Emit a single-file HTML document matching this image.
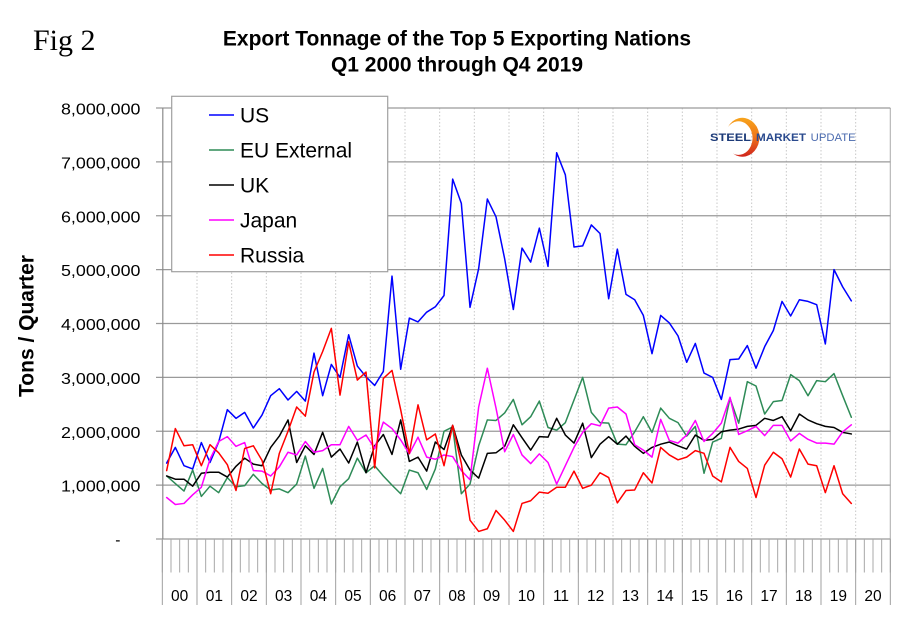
<!DOCTYPE html>
<html>
<head>
<meta charset="utf-8">
<style>
  html,body{margin:0;padding:0;background:#fff;}
  svg{display:block;}
  text{font-family:"Liberation Sans", Arial, sans-serif;}
</style>
</head>
<body>
<svg width="910" height="622" viewBox="0 0 910 622" xmlns="http://www.w3.org/2000/svg">
  <rect x="0" y="0" width="910" height="622" fill="#fff"/>

  <!-- Fig label -->
  <text x="33" y="50" style="font-family:'Liberation Serif', 'Times New Roman', serif;" font-size="30" fill="#000">Fig 2</text>

  <!-- Title -->
  <text x="457" y="45.7" font-size="21" font-weight="bold" text-anchor="middle" fill="#000">Export Tonnage of the Top 5 Exporting Nations</text>
  <text x="457" y="71.7" font-size="21" font-weight="bold" text-anchor="middle" fill="#000">Q1 2000 through Q4 2019</text>

  <!-- Y axis title -->
  <text transform="translate(33.3 326) rotate(-90)" font-size="21" font-weight="bold" text-anchor="middle" fill="#000">Tons / Quarter</text>

  <!-- vertical dotted gridlines -->
  <g stroke="#c8c8c8" stroke-width="1" stroke-dasharray="1.5 2">
    <line x1="197.0" y1="108" x2="197.0" y2="539"/>
    <line x1="231.67" y1="108" x2="231.67" y2="539"/>
    <line x1="266.33" y1="108" x2="266.33" y2="539"/>
    <line x1="301.0" y1="108" x2="301.0" y2="539"/>
    <line x1="335.67" y1="108" x2="335.67" y2="539"/>
    <line x1="370.33" y1="108" x2="370.33" y2="539"/>
    <line x1="405.0" y1="108" x2="405.0" y2="539"/>
    <line x1="439.67" y1="108" x2="439.67" y2="539"/>
    <line x1="474.33" y1="108" x2="474.33" y2="539"/>
    <line x1="509.0" y1="108" x2="509.0" y2="539"/>
    <line x1="543.67" y1="108" x2="543.67" y2="539"/>
    <line x1="578.33" y1="108" x2="578.33" y2="539"/>
    <line x1="613.0" y1="108" x2="613.0" y2="539"/>
    <line x1="647.67" y1="108" x2="647.67" y2="539"/>
    <line x1="682.33" y1="108" x2="682.33" y2="539"/>
    <line x1="717.0" y1="108" x2="717.0" y2="539"/>
    <line x1="751.67" y1="108" x2="751.67" y2="539"/>
    <line x1="786.33" y1="108" x2="786.33" y2="539"/>
    <line x1="821.0" y1="108" x2="821.0" y2="539"/>
    <line x1="855.67" y1="108" x2="855.67" y2="539"/>
  </g>

  <!-- right border -->
  <line x1="890.33" y1="108" x2="890.33" y2="539" stroke="#b8b8b8" stroke-width="1.2"/>

  <!-- horizontal gridlines -->
  <g stroke="#9a9a9a" stroke-width="1.2">
    <line x1="156" y1="108" x2="890.33" y2="108"/>
    <line x1="156" y1="161.875" x2="890.33" y2="161.875"/>
    <line x1="156" y1="215.75" x2="890.33" y2="215.75"/>
    <line x1="156" y1="269.625" x2="890.33" y2="269.625"/>
    <line x1="156" y1="323.5" x2="890.33" y2="323.5"/>
    <line x1="156" y1="377.375" x2="890.33" y2="377.375"/>
    <line x1="156" y1="431.25" x2="890.33" y2="431.25"/>
    <line x1="156" y1="485.125" x2="890.33" y2="485.125"/>
    <line x1="156" y1="539" x2="890.33" y2="539"/>
  </g>

  <!-- y axis line -->
  <line x1="162.8" y1="108" x2="162.8" y2="539" stroke="#8a8a8a" stroke-width="1.2"/>

  <!-- x axis ticks: quarter ticks -->
  <line x1="161.83" y1="555.75" x2="891.5" y2="555.75" stroke="#a8a8a8" stroke-width="33.5" stroke-dasharray="1 7.6667"/>
  <!-- year ticks -->
  <line x1="161.83" y1="572" x2="891.5" y2="572" stroke="#a0a0a0" stroke-width="66" stroke-dasharray="1 33.6667"/>

  <!-- Y tick labels -->
  <g font-size="15.5" fill="#000">
    <text x="61" y="114.6" textLength="79.5" lengthAdjust="spacingAndGlyphs">8,000,000</text>
    <text x="61" y="168.5" textLength="79.5" lengthAdjust="spacingAndGlyphs">7,000,000</text>
    <text x="61" y="222.3" textLength="79.5" lengthAdjust="spacingAndGlyphs">6,000,000</text>
    <text x="61" y="276.2" textLength="79.5" lengthAdjust="spacingAndGlyphs">5,000,000</text>
    <text x="61" y="330.1" textLength="79.5" lengthAdjust="spacingAndGlyphs">4,000,000</text>
    <text x="61" y="383.9" textLength="79.5" lengthAdjust="spacingAndGlyphs">3,000,000</text>
    <text x="61" y="437.8" textLength="79.5" lengthAdjust="spacingAndGlyphs">2,000,000</text>
    <text x="61" y="491.7" textLength="79.5" lengthAdjust="spacingAndGlyphs">1,000,000</text>
    <text x="115.3" y="545">-</text>
  </g>

  <!-- X year labels -->
  <g font-size="15.5" fill="#000" text-anchor="middle">
    <text x="179.67" y="601">00</text>
    <text x="214.33" y="601">01</text>
    <text x="249.0" y="601">02</text>
    <text x="283.67" y="601">03</text>
    <text x="318.33" y="601">04</text>
    <text x="353.0" y="601">05</text>
    <text x="387.67" y="601">06</text>
    <text x="422.33" y="601">07</text>
    <text x="457.0" y="601">08</text>
    <text x="491.67" y="601">09</text>
    <text x="526.33" y="601">10</text>
    <text x="561.0" y="601">11</text>
    <text x="595.67" y="601">12</text>
    <text x="630.33" y="601">13</text>
    <text x="665.0" y="601">14</text>
    <text x="699.67" y="601">15</text>
    <text x="734.33" y="601">16</text>
    <text x="769.0" y="601">17</text>
    <text x="803.67" y="601">18</text>
    <text x="838.33" y="601">19</text>
    <text x="873.0" y="601">20</text>
  </g>

  <!-- Logo -->
  <defs>
    <linearGradient id="arcg" x1="0" y1="0" x2="0" y2="1">
      <stop offset="0" stop-color="#f7a41c"/>
      <stop offset="0.45" stop-color="#f07a1a"/>
      <stop offset="1" stop-color="#d0241c"/>
    </linearGradient>
  </defs>
  <path d="M728,127 A17,19.5 0 1,1 733,153.5 A14,16.8 0 1,0 728,127 Z" fill="url(#arcg)"/>
  <text x="710" y="141" font-size="11.2" font-weight="bold" fill="#1c3a78" textLength="41" lengthAdjust="spacingAndGlyphs">STEEL</text>
  <text x="756" y="141" font-size="11.2" font-weight="bold" fill="#2a4a8e" textLength="50" lengthAdjust="spacingAndGlyphs">MARKET</text>
  <text x="810.7" y="141" font-size="11.2" fill="#4a6aae" textLength="45" lengthAdjust="spacingAndGlyphs">UPDATE</text>

  <!-- Data series -->
  <g transform="translate(166.67 539) scale(8.6667 -53.875)" fill="none" stroke-linejoin="round" stroke-linecap="round">
    <polyline vector-effect="non-scaling-stroke" stroke="#0000ff" stroke-width="1.5" points="0,1.41 1,1.70 2,1.36 3,1.30 4,1.79 5,1.42 6,1.80 7,2.40 8,2.24 9,2.35 10,2.06 11,2.30 12,2.66 13,2.79 14,2.58 15,2.74 16,2.56 17,3.45 18,2.66 19,3.24 20,3.00 21,3.79 22,3.21 23,3.01 24,2.85 25,3.11 26,4.88 27,3.15 28,4.10 29,4.03 30,4.21 31,4.31 32,4.52 33,6.68 34,6.23 35,4.30 36,5.02 37,6.31 38,5.98 39,5.20 40,4.26 41,5.40 42,5.14 43,5.77 44,5.06 45,7.17 46,6.76 47,5.42 48,5.44 49,5.83 50,5.67 51,4.46 52,5.38 53,4.54 54,4.44 55,4.15 56,3.44 57,4.15 58,4.01 59,3.77 60,3.28 61,3.63 62,3.08 63,3.00 64,2.59 65,3.33 66,3.34 67,3.59 68,3.17 69,3.57 70,3.87 71,4.41 72,4.14 73,4.44 74,4.41 75,4.35 76,3.62 77,5.00 78,4.68 79,4.42"/>
    <polyline vector-effect="non-scaling-stroke" stroke="#2e8b57" stroke-width="1.5" points="0,1.17 1,1.03 2,0.89 3,1.28 4,0.79 5,0.98 6,0.86 7,1.14 8,0.97 9,0.99 10,1.20 11,1.03 12,0.91 13,0.93 14,0.86 15,1.02 16,1.54 17,0.94 18,1.31 19,0.65 20,0.97 21,1.12 22,1.50 23,1.23 24,1.36 25,1.17 26,1.00 27,0.84 28,1.28 29,1.23 30,0.92 31,1.30 32,2.00 33,2.08 34,0.84 35,1.02 36,1.73 37,2.21 38,2.20 39,2.34 40,2.59 41,2.12 42,2.27 43,2.56 44,2.07 45,2.02 46,2.16 47,2.58 48,3.00 49,2.35 50,2.16 51,2.15 52,1.76 53,1.75 54,1.99 55,2.27 56,1.98 57,2.43 58,2.24 59,2.16 60,1.91 61,2.09 62,1.22 63,1.80 64,1.87 65,2.61 66,2.15 67,2.92 68,2.84 69,2.32 70,2.55 71,2.57 72,3.05 73,2.94 74,2.66 75,2.94 76,2.92 77,3.07 78,2.66 79,2.26"/>
    <polyline vector-effect="non-scaling-stroke" stroke="#000000" stroke-width="1.5" points="0,1.17 1,1.11 2,1.11 3,0.98 4,1.22 5,1.24 6,1.24 7,1.15 8,1.35 9,1.50 10,1.39 11,1.36 12,1.70 13,1.91 14,2.21 15,1.42 16,1.73 17,1.57 18,1.98 19,1.52 20,1.67 21,1.41 22,1.80 23,1.23 24,1.73 25,1.94 26,1.57 27,2.21 28,1.44 29,1.52 30,1.26 31,1.80 32,1.66 33,2.11 34,1.56 35,1.28 36,1.13 37,1.59 38,1.60 39,1.72 40,2.12 41,1.88 42,1.65 43,1.90 44,1.89 45,2.24 46,1.93 47,1.78 48,2.15 49,1.51 50,1.76 51,1.90 52,1.76 53,1.91 54,1.72 55,1.59 56,1.70 57,1.76 58,1.80 59,1.73 60,1.67 61,1.93 62,1.83 63,1.85 64,1.99 65,2.02 66,2.04 67,2.09 68,2.11 69,2.24 70,2.20 71,2.27 72,2.01 73,2.32 74,2.21 75,2.14 76,2.09 77,2.07 78,1.98 79,1.95"/>
    <polyline vector-effect="non-scaling-stroke" stroke="#ff00ff" stroke-width="1.5" points="0,0.77 1,0.64 2,0.66 3,0.82 4,0.96 5,1.48 6,1.81 7,1.90 8,1.72 9,1.79 10,1.27 11,1.26 12,1.17 13,1.34 14,1.61 15,1.56 16,1.81 17,1.61 18,1.64 19,1.75 20,1.75 21,2.09 22,1.83 23,1.93 24,1.68 25,2.17 26,2.05 27,1.84 28,1.58 29,1.89 30,1.52 31,1.48 32,1.56 33,1.53 34,1.27 35,1.10 36,2.45 37,3.17 38,2.43 39,1.62 40,1.94 41,1.56 42,1.40 43,1.58 44,1.42 45,1.02 46,1.36 47,1.70 48,1.98 49,2.14 50,2.10 51,2.43 52,2.45 53,2.32 54,1.75 55,1.65 56,1.52 57,2.22 58,1.83 59,1.78 60,1.93 61,2.20 62,1.81 63,1.96 64,2.15 65,2.63 66,1.94 67,2.01 68,2.09 69,1.92 70,2.11 71,2.11 72,1.82 73,1.96 74,1.85 75,1.78 76,1.78 77,1.76 78,1.99 79,2.12"/>
    <polyline vector-effect="non-scaling-stroke" stroke="#ff0000" stroke-width="1.5" points="0,1.27 1,2.05 2,1.73 3,1.75 4,1.36 5,1.75 6,1.60 7,1.38 8,0.90 9,1.68 10,1.73 11,1.46 12,0.84 13,1.59 14,2.00 15,2.45 16,2.28 17,3.10 18,3.48 19,3.91 20,2.67 21,3.66 22,2.95 23,3.10 24,1.32 25,2.98 26,3.13 27,2.40 28,1.59 29,2.49 30,1.84 31,1.95 32,1.36 33,2.11 34,1.40 35,0.35 36,0.14 37,0.19 38,0.53 39,0.35 40,0.14 41,0.66 42,0.71 43,0.87 44,0.85 45,0.96 46,0.96 47,1.26 48,0.94 49,1.00 50,1.23 51,1.14 52,0.67 53,0.90 54,0.91 55,1.23 56,1.04 57,1.70 58,1.56 59,1.47 60,1.52 61,1.64 62,1.59 63,1.17 64,1.06 65,1.70 66,1.44 67,1.31 68,0.77 69,1.37 70,1.61 71,1.49 72,1.15 73,1.67 74,1.39 75,1.36 76,0.86 77,1.36 78,0.84 79,0.66"/>
  </g>

  <!-- Legend -->
  <rect x="171.7" y="96.3" width="216" height="175.4" fill="#fff" stroke="#a0a0a0" stroke-width="1.2"/>
  <g stroke-width="1.5">
    <line x1="209" y1="115" x2="234" y2="115" stroke="#0000ff"/>
    <line x1="209" y1="150" x2="234" y2="150" stroke="#2e8b57"/>
    <line x1="209" y1="185" x2="234" y2="185" stroke="#000000"/>
    <line x1="209" y1="220" x2="234" y2="220" stroke="#ff00ff"/>
    <line x1="209" y1="255" x2="234" y2="255" stroke="#ff0000"/>
  </g>
  <g font-size="21" fill="#000">
    <text x="240" y="122.6">US</text>
    <text x="240" y="157.6">EU External</text>
    <text x="240" y="192.6">UK</text>
    <text x="240" y="227.6">Japan</text>
    <text x="240" y="262.6">Russia</text>
  </g>
</svg>
</body>
</html>
